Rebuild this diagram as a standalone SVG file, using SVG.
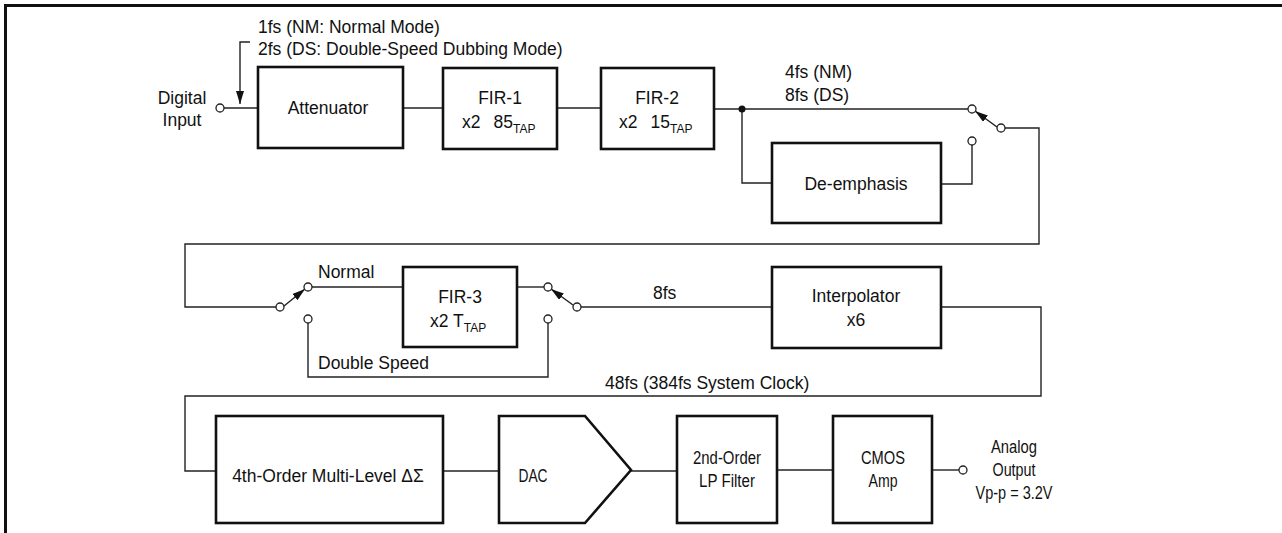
<svg xmlns="http://www.w3.org/2000/svg" width="1282" height="533" viewBox="0 0 1282 533">
<style>
text{font-family:"Liberation Sans",Arial,sans-serif;font-size:17.5px;fill:#111}
.box{fill:#fff;stroke:#111;stroke-width:2.6}
.ln{fill:none;stroke:#222;stroke-width:1.4}
.term{fill:#fff;stroke:#222;stroke-width:1.3}
.sub{font-size:12px}
.c{text-anchor:middle}
</style>
<defs>
<marker id="ah" markerUnits="userSpaceOnUse" markerWidth="14" markerHeight="10" refX="13" refY="4" orient="auto">
<path d="M0,0 L13,4 L0,8 Z" fill="#111"/>
</marker>
</defs>
<g id="frame"><path d="M5.5,533 V5.5 H1282" fill="none" stroke="#111" stroke-width="3"/></g>
<g id="connectors">
<path class="ln" d="M224,108 H258"/>
<path class="ln" d="M250,42 H240 V104" marker-end="url(#ah)"/>
<path class="ln" d="M403,108 H443"/>
<path class="ln" d="M557,108 H601"/>
<path class="ln" d="M714,109 H968"/>
<path class="ln" d="M742,109 V183 H772"/>
<circle cx="742" cy="109" r="3.5" fill="#111"/>
<path class="ln" d="M941,184 H972 V145"/>
<path class="ln" d="M997,127 L975,111" marker-end="url(#ah)"/>
<path class="ln" d="M1005,128 H1039 V244 H185 V307 H276"/>
<path class="ln" d="M284,306 L305,289" marker-end="url(#ah)"/>
<path class="ln" d="M312,287 H403"/>
<path class="ln" d="M517,287 H544"/>
<path class="ln" d="M573,305 L551,289" marker-end="url(#ah)"/>
<path class="ln" d="M581,307 H772"/>
<path class="ln" d="M308,323 V377 H548 V323"/>
<path class="ln" d="M941,307 H1041 V396 H185 V471 H216"/>
<path class="ln" d="M443,471 H499"/>
<path class="ln" d="M631,471 H677"/>
<path class="ln" d="M777,470 H833"/>
<path class="ln" d="M932,470 H959"/>
<circle class="term" cx="220" cy="108" r="4"/>
<circle class="term" cx="972" cy="109" r="4"/>
<circle class="term" cx="972" cy="141" r="4"/>
<circle class="term" cx="1001" cy="128" r="4"/>
<circle class="term" cx="280" cy="307" r="4"/>
<circle class="term" cx="308" cy="287" r="4"/>
<circle class="term" cx="308" cy="319" r="4"/>
<circle class="term" cx="548" cy="287" r="4"/>
<circle class="term" cx="548" cy="319" r="4"/>
<circle class="term" cx="577" cy="307" r="4"/>
<circle class="term" cx="963" cy="470" r="4"/>
</g>
<g id="labels">
<text x="182" y="104" class="c">Digital</text>
<text x="182" y="126" class="c">Input</text>
<text x="258" y="33">1fs (NM: Normal Mode)</text>
<text x="258" y="55">2fs (DS: Double-Speed Dubbing Mode)</text>
<text x="785" y="78">4fs (NM)</text>
<text x="785" y="101">8fs (DS)</text>
<text x="318" y="278">Normal</text>
<text x="318" y="369">Double Speed</text>
<text x="653" y="299">8fs</text>
<text x="605" y="389">48fs (384fs System Clock)</text>
<text x="1014" y="453" class="c" textLength="46" lengthAdjust="spacingAndGlyphs">Analog</text>
<text x="1014" y="476" class="c" textLength="43" lengthAdjust="spacingAndGlyphs">Output</text>
<text x="1014" y="499" class="c" textLength="77" lengthAdjust="spacingAndGlyphs">Vp-p = 3.2V</text>
</g>
<g id="attenuator"><rect class="box" x="258" y="67" width="145" height="81"/><text x="328" y="114" class="c">Attenuator</text></g>
<g id="fir1"><rect class="box" x="443" y="68" width="114" height="81"/><text x="500" y="104" class="c">FIR-1</text><text x="462" y="128">x2<tspan dx="13">85</tspan><tspan class="sub" dy="5">TAP</tspan></text></g>
<g id="fir2"><rect class="box" x="601" y="68" width="113" height="81"/><text x="657" y="104" class="c">FIR-2</text><text x="619" y="128">x2<tspan dx="13">15</tspan><tspan class="sub" dy="5">TAP</tspan></text></g>
<g id="deemphasis"><rect class="box" x="772" y="143" width="169" height="80"/><text x="856" y="190" class="c">De-emphasis</text></g>
<g id="fir3"><rect class="box" x="403" y="267" width="114" height="80"/><text x="460" y="303" class="c">FIR-3</text><text x="430" y="327">x2 T<tspan class="sub" dy="5">TAP</tspan></text></g>
<g id="interpolator"><rect class="box" x="772" y="267" width="169" height="81"/><text x="856" y="302" class="c">Interpolator</text><text x="856" y="326" class="c">x6</text></g>
<g id="deltasigma"><rect class="box" x="216" y="416" width="227" height="107"/><text x="328" y="482" class="c">4th-Order Multi-Level ΔΣ</text></g>
<g id="dac"><path class="box" d="M499,416 H585 L631,470 L585,523 H499 Z"/><text x="533" y="482" class="c" textLength="29" lengthAdjust="spacingAndGlyphs">DAC</text></g>
<g id="lpfilter"><rect class="box" x="677" y="416" width="100" height="107"/><text x="727" y="464" class="c" textLength="68" lengthAdjust="spacingAndGlyphs">2nd-Order</text><text x="727" y="487" class="c" textLength="56" lengthAdjust="spacingAndGlyphs">LP Filter</text></g>
<g id="cmosamp"><rect class="box" x="833" y="416" width="99" height="107"/><text x="883" y="464" class="c" textLength="44" lengthAdjust="spacingAndGlyphs">CMOS</text><text x="883" y="487" class="c" textLength="29" lengthAdjust="spacingAndGlyphs">Amp</text></g>
</svg>
